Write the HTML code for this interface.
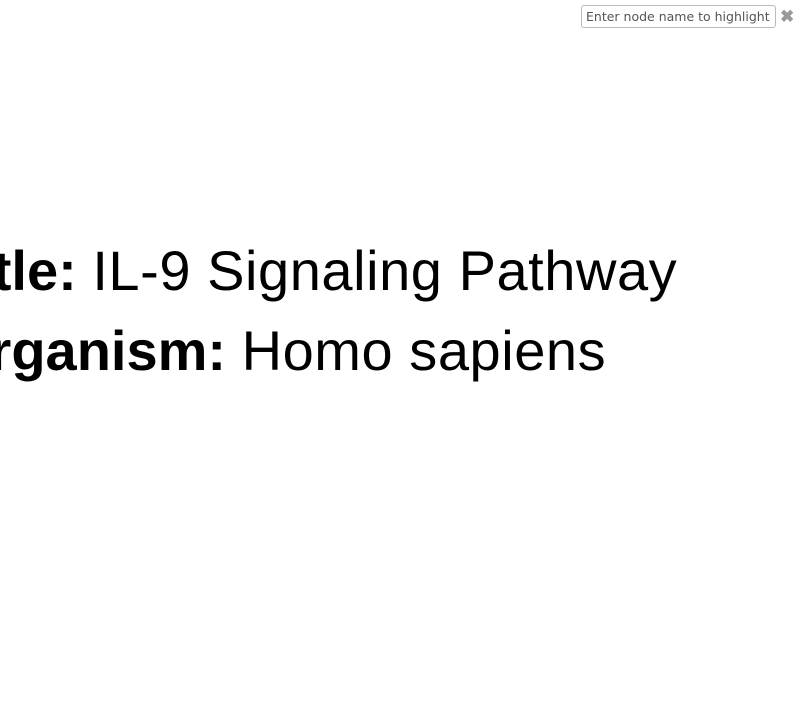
<!DOCTYPE html>
<html><head><meta charset="utf-8"><style>
html,body{margin:0;padding:0;width:800px;height:721px;overflow:hidden;background:#fff;font-family:"Liberation Sans",Arial,sans-serif;}
#wrap{position:absolute;left:0;top:0;width:800px;height:721px;overflow:hidden;}
.line{position:absolute;white-space:nowrap;font-size:56px;color:#000;line-height:1;}
.line b{font-weight:bold;}
.line span{letter-spacing:0.55px;}
#search{position:absolute;left:581px;top:5px;width:195px;height:23px;box-sizing:border-box;border:1px solid #bbb;border-radius:3px;font-family:"DejaVu Sans","Liberation Sans",sans-serif;font-size:12.5px;color:#555;padding:0 0 0 4px;line-height:21px;}
#close{position:absolute;left:780px;top:8px;font-size:17px;color:#999;font-weight:bold;line-height:17px;}
</style></head><body>
<div id="wrap">
<div id="search">Enter node name to highlight</div>
<div id="close">✖</div>
<div class="line" style="left:-56px;top:243px;"><b>Title:</b> <span>IL-9 Signaling Pathway</span></div>
<div class="line" style="left:-54px;top:323px;"><b>Organism:</b> <span>Homo sapiens</span></div>
</div>
</body></html>
